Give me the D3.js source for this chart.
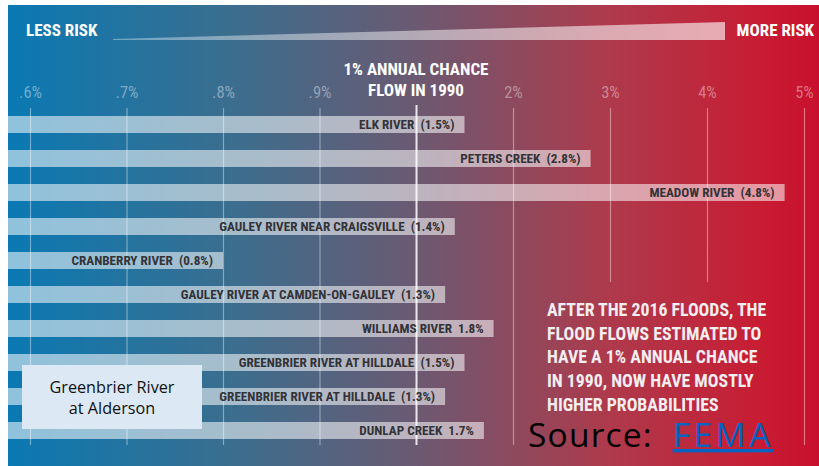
<!DOCTYPE html>
<html>
<head>
<meta charset="utf-8">
<script src="https://cdn.jsdelivr.net/npm/d3@7"></script>
<style>
  html, body { margin: 0; padding: 0; background: #ffffff; }
  svg { display: block; }
  text { white-space: pre; }
</style>
</head>
<body>
<svg id="chart" width="819" height="466"></svg>
<script>
// ---- data ----
const rivers = [
  "ELK RIVER",
  "PETERS CREEK",
  "MEADOW RIVER",
  "GAULEY RIVER NEAR CRAIGSVILLE",
  "CRANBERRY RIVER",
  "GAULEY RIVER AT CAMDEN-ON-GAULEY",
  "WILLIAMS RIVER",
  "GREENBRIER RIVER AT HILLDALE",
  "GREENBRIER RIVER AT HILLDALE",
  "DUNLAP CREEK"
];
const chances = [1.5, 2.8, 4.8, 1.4, 0.8, 1.3, 1.8, 1.5, 1.3, 1.7];
const parenthesised = [true, true, true, true, true, true, false, true, true, false];
const tickValues = [0.6, 0.7, 0.8, 0.9, 1, 2, 3, 4, 5];
const tickLabels = [".6%", ".7%", ".8%", ".9%", "", "2%", "3%", "4%", "5%"];
const headerLeft = "LESS RISK";
const headerRight = "MORE RISK";
const refLabel = ["1% ANNUAL CHANCE", "FLOW IN 1990"];
const noteLines = [
  "AFTER THE 2016 FLOODS, THE",
  "FLOOD FLOWS ESTIMATED TO",
  "HAVE A 1% ANNUAL CHANCE",
  "IN 1990, NOW HAVE MOSTLY",
  "HIGHER PROBABILITIES"
];
const boxLines = ["Greenbrier River", "at Alderson"];
const sourceLabel = "Source:  ";
const sourceLink = "FEMA";

// ---- setup ----
const W = 819, H = 466;
const svg = d3.select("#chart");
const condensed = "'Liberation Sans Narrow', 'Roboto Condensed', 'DejaVu Sans Condensed', 'Arial Narrow', sans-serif";

const defs = svg.append("defs");
const bg = defs.append("linearGradient").attr("id", "bg").attr("x1", "0").attr("x2", "1").attr("y1", "0").attr("y2", "0");
[[0, "#0a79b3"], [0.27, "#3a6e8f"], [0.5, "#6a5a72"], [0.74, "#ae3a4c"], [0.93, "#c81c33"], [1, "#c8102e"]]
  .forEach(([o, c]) => bg.append("stop").attr("offset", o).attr("stop-color", c));

const wg = defs.append("linearGradient").attr("id", "wedge").attr("x1", "0").attr("x2", "1").attr("y1", "0").attr("y2", "0");
wg.append("stop").attr("offset", 0).attr("stop-color", "#ffffff").attr("stop-opacity", 0.35);
wg.append("stop").attr("offset", 1).attr("stop-color", "#ffffff").attr("stop-opacity", 0.62);

// background panel
svg.append("rect").attr("x", 8).attr("y", 5).attr("width", W - 8).attr("height", H - 5).attr("fill", "url(#bg)");

// scales
const x = d3.scaleLinear().domain([0.6, 1, 5]).range([30, 416, 804]);
const y = d3.scaleBand().domain(d3.range(rivers.length)).range([107.5, 447.5]).paddingInner(0.5).paddingOuter(0.25);

// header
svg.append("text").attr("x", 26).attr("y", 36).text(headerLeft)
  .attr("font-family", condensed).attr("font-weight", "bold").attr("font-size", 17).attr("fill", "#ffffff");
svg.append("text").attr("x", 814).attr("y", 36).attr("text-anchor", "end").text(headerRight)
  .attr("font-family", condensed).attr("font-weight", "bold").attr("font-size", 17).attr("fill", "#ffffff");
svg.append("path").attr("d", "M113,39 L725,22 L725,40 L113,40 Z").attr("fill", "url(#wedge)");

// axis with gridlines
const axis = d3.axisTop(x).tickValues(tickValues)
  .tickFormat((d, i) => tickLabels[i]).tickSizeInner(-337).tickSizeOuter(0).tickPadding(10);
const gAxis = svg.append("g").attr("transform", "translate(0,108)").call(axis);
gAxis.select(".domain").remove();
gAxis.selectAll(".tick line").attr("stroke", "#ffffff").attr("stroke-opacity", 0.4).attr("stroke-width", 1.2)
  .attr("y2", d => (d === 3 || d === 4) ? 174 : 337);
gAxis.selectAll(".tick text").attr("fill", "#ffffff").attr("fill-opacity", 0.4)
  .attr("font-family", condensed).attr("font-size", 16.5).attr("dy", 0);
gAxis.selectAll(".tick").filter(d => d === 1).select("line")
  .attr("stroke-opacity", 0.85).attr("stroke-width", 2).attr("y1", -3);

// reference label
svg.append("g").selectAll("text").data(refLabel).join("text")
  .attr("x", x(1)).attr("y", (d, i) => 75 + i * 21).attr("text-anchor", "middle").text(d => d)
  .attr("font-family", condensed).attr("font-weight", "bold").attr("font-size", 17).attr("fill", "#ffffff");

// bars
const gBars = svg.append("g");
gBars.selectAll("rect").data(chances).join("rect")
  .attr("x", 8).attr("y", (d, i) => y(i))
  .attr("width", d => x(d) - 8).attr("height", y.bandwidth())
  .attr("fill", "#ffffff").attr("fill-opacity", 0.55);
gBars.selectAll("text").data(chances).join("text")
  .attr("x", d => x(d) - 10).attr("y", (d, i) => y(i) + y.bandwidth() / 2 + 4.5)
  .attr("text-anchor", "end")
  .text((d, i) => rivers[i] + "  " + (parenthesised[i] ? "(" + d.toFixed(1) + "%)" : d.toFixed(1) + "%"))
  .attr("font-family", condensed).attr("font-weight", "bold").attr("font-size", 13.2).attr("fill", "#333338");

// note
svg.append("g").selectAll("text").data(noteLines).join("text")
  .attr("x", 547).attr("y", (d, i) => 316 + i * 23.7).text(d => d)
  .attr("font-family", condensed).attr("font-weight", "bold").attr("font-size", 17.8).attr("fill", "#f4eef0");

// box
svg.append("rect").attr("x", 22).attr("y", 365).attr("width", 180).attr("height", 64).attr("fill", "#dce8f4");
svg.append("g").selectAll("text").data(boxLines).join("text")
  .attr("x", 112).attr("y", (d, i) => 393 + i * 21).attr("text-anchor", "middle").text(d => d)
  .attr("font-family", "'Open Sans', Lato, sans-serif").attr("font-size", 16.2).attr("fill", "#111111");

// source
const src = svg.append("text").attr("x", 528).attr("y", 447)
  .attr("font-family", "'Open Sans', Lato, sans-serif").attr("font-size", 33.5).attr("letter-spacing", 1.2);
src.append("tspan").attr("fill", "#000000").text(sourceLabel);
src.append("tspan").attr("fill", "#0563c1").attr("text-decoration", "underline").attr("letter-spacing", 3.5).text(sourceLink);
</script>
</body>
</html>
